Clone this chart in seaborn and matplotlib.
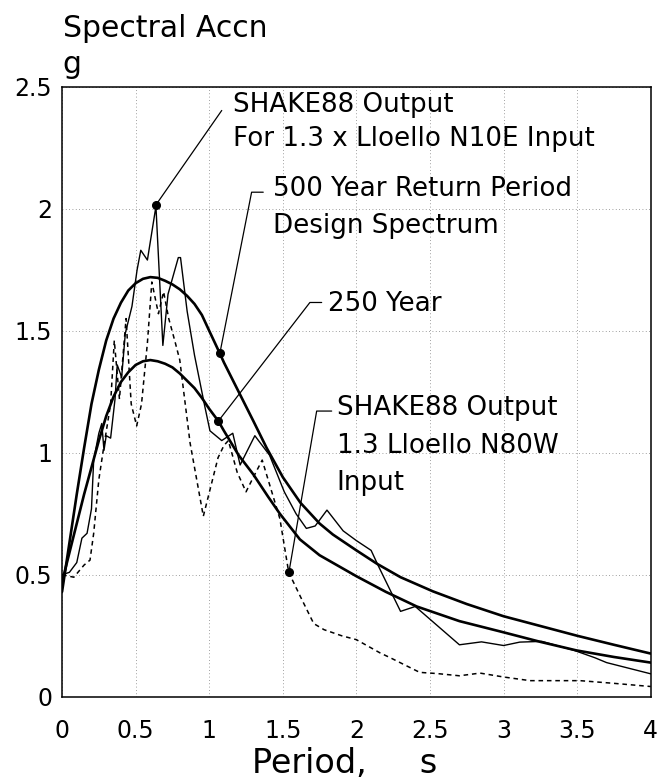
import numpy as np
import pandas as pd
import seaborn as sns
import matplotlib
matplotlib.use('Agg')
import matplotlib.pyplot as plt

# period (s) and spectral acceleration (g)
n10e_period = [0, 0.05, 0.10, 0.135, 0.17, 0.20, 0.215, 0.25, 0.27, 0.285, 0.30, 0.33, 0.36,
               0.375, 0.405, 0.43, 0.475, 0.51, 0.535, 0.58, 0.638, 0.685, 0.72, 0.79, 0.805,
               0.85, 0.90, 0.97, 1.005, 1.085, 1.16, 1.21, 1.31, 1.41, 1.51, 1.59, 1.66, 1.72,
               1.80, 1.91, 2.0, 2.10, 2.15, 2.30, 2.40, 2.70, 2.85, 3.0, 3.11, 3.26, 3.48, 3.62,
               3.70, 4.0]
n10e_accn = [0.50, 0.51, 0.55, 0.65, 0.67, 0.77, 0.97, 1.08, 1.12, 1.01, 1.07, 1.06, 1.22,
             1.36, 1.31, 1.49, 1.60, 1.75, 1.83, 1.79, 2.01, 1.44, 1.65, 1.80, 1.80,
             1.58, 1.40, 1.19, 1.09, 1.05, 1.08, 0.95, 1.07, 0.99, 0.84, 0.75, 0.69, 0.70,
             0.765, 0.68, 0.64, 0.60, 0.535, 0.35, 0.37, 0.213, 0.225, 0.21, 0.224, 0.227, 0.19, 0.16,
             0.14, 0.094]

n80w_period = [0, 0.08, 0.15, 0.19, 0.215, 0.25, 0.28, 0.33, 0.355, 0.39, 0.435, 0.47, 0.507,
               0.54, 0.58, 0.61, 0.655, 0.69, 0.725, 0.77, 0.80, 0.87, 0.96, 1.01, 1.06, 1.10,
               1.13, 1.19, 1.25, 1.30, 1.36, 1.42, 1.48, 1.54, 1.62, 1.71, 1.78, 1.90, 2.0,
               2.16, 2.23, 2.43, 2.55, 2.70, 2.84, 3.0, 3.18, 3.52, 3.75, 4.0]
n80w_accn = [0.50, 0.49, 0.54, 0.56, 0.67, 0.89, 1.01, 1.2, 1.46, 1.22, 1.55, 1.2, 1.11,
             1.2, 1.45, 1.70, 1.57, 1.66, 1.55, 1.45, 1.38, 1.04, 0.74, 0.86, 0.98, 1.03,
             1.05, 0.92, 0.84, 0.90, 0.97, 0.85, 0.73, 0.51, 0.41, 0.30, 0.275, 0.25, 0.234,
             0.18, 0.16, 0.10, 0.095, 0.086, 0.097, 0.081, 0.066, 0.066, 0.055, 0.042]

yr500_period = [0, 0.05, 0.10, 0.15, 0.20, 0.25, 0.30, 0.35, 0.40, 0.45, 0.50, 0.55, 0.60,
                0.65, 0.70, 0.75, 0.80, 0.85, 0.90, 0.95, 1.00, 1.07, 1.10, 1.20, 1.30, 1.39,
                1.50, 1.62, 1.75, 1.84, 2.00, 2.14, 2.30, 2.52, 2.75, 3.00, 3.25, 3.50, 3.75, 4.00]
yr500_accn = [0.43, 0.63, 0.83, 1.02, 1.20, 1.34, 1.46, 1.55, 1.615, 1.665, 1.695, 1.713, 1.72,
              1.717, 1.705, 1.69, 1.67, 1.643, 1.61, 1.565, 1.50, 1.41, 1.37, 1.25, 1.13, 1.02,
              0.90, 0.795, 0.71, 0.665, 0.60, 0.545, 0.49, 0.432, 0.38, 0.33, 0.29, 0.25, 0.213, 0.177]

yr250_period = [0, 0.05, 0.10, 0.15, 0.20, 0.25, 0.30, 0.35, 0.40, 0.45, 0.50, 0.55, 0.60,
                0.65, 0.70, 0.75, 0.80, 0.85, 0.90, 0.95, 1.00, 1.062, 1.10, 1.20, 1.30, 1.40,
                1.48, 1.616, 1.75, 2.00, 2.20, 2.41, 2.70, 2.975, 3.25, 3.495, 3.75, 4.00]
yr250_accn = [0.47, 0.59, 0.71, 0.83, 0.94, 1.05, 1.15, 1.23, 1.29, 1.33, 1.36, 1.375, 1.38,
              1.375, 1.365, 1.35, 1.325, 1.295, 1.265, 1.225, 1.18, 1.13, 1.09, 0.99, 0.911, 0.82,
              0.75, 0.645, 0.58, 0.494, 0.43, 0.37, 0.31, 0.268, 0.225, 0.19, 0.163, 0.14]

# callouts: anchor point on the curve, leader bend, leader end, text lines
callout_anchor = [(0.638, 2.016), (1.073, 1.41), (1.062, 1.13), (1.542, 0.512)]
callout_bend = [(1.085, 2.403), (1.288, 2.068), (1.684, 1.616), (1.73, 1.171)]
callout_end = [(1.085, 2.403), (1.367, 2.068), (1.764, 1.616), (1.832, 1.171)]
callout_text_x = [1.163, 1.435, 1.808, 1.866]
callout_lines = [['SHAKE88 Output', 'For 1.3 x Lloello N10E Input'],
                 ['500 Year Return Period', 'Design Spectrum'],
                 ['250 Year'],
                 ['SHAKE88 Output', '1.3 Lloello N80W', 'Input']]
callout_line_y = [[2.426, 2.287], [2.081, 1.931], [1.609], [1.185, 1.027, 0.876]]

sns.set_style('white')
plt.rcParams['font.family'] = ['DejaVu Sans']
plt.rcParams['text.color'] = 'black'

fig = plt.figure(figsize=(6.6, 7.82), dpi=100)
ax = fig.add_axes([0.094, 0.109, 0.892, 0.78])

sns.lineplot(x=yr500_period, y=yr500_accn, ax=ax, color='black', lw=1.9, sort=False, estimator=None)
sns.lineplot(x=yr250_period, y=yr250_accn, ax=ax, color='black', lw=1.9, sort=False, estimator=None)
sns.lineplot(x=n10e_period, y=n10e_accn, ax=ax, color='black', lw=1.0, sort=False, estimator=None)
sns.lineplot(x=n80w_period, y=n80w_accn, ax=ax, color='black', lw=1.1, sort=False, estimator=None,
             dashes=False, linestyle=(0, (3, 2.5)))

for anc, bend, end, tx, lines, ly in zip(callout_anchor, callout_bend, callout_end,
                                          callout_text_x, callout_lines, callout_line_y):
    ax.plot([anc[0], bend[0], end[0]], [anc[1], bend[1], end[1]], color='black', lw=0.9)
    ax.plot(anc[0], anc[1], 'o', color='black', ms=5.5)
    for line, y in zip(lines, ly):
        ax.text(tx, y, line, fontsize=18.8, va='center', ha='left', color='black')

ax.set_xlim(0, 4)
ax.set_ylim(0, 2.5)
ticks_x = np.arange(0, 4.01, 0.5)
ticks_y = np.arange(0, 2.51, 0.5)
ax.set_xticks(ticks_x)
ax.set_yticks(ticks_y)
ax.set_xticklabels([f'{t:g}' for t in ticks_x])
ax.set_yticklabels([f'{t:g}' for t in ticks_y])
ax.grid(True, color='0.5', lw=0.6, linestyle=(0, (1, 3)))
ax.tick_params(direction='in', length=7, width=1, labelsize=17, colors='black')
ax.tick_params(axis='x', pad=16)
ax.tick_params(axis='y', pad=7)
for s in ax.spines.values():
    s.set_color('black')
    s.set_linewidth(1.1)
ax.set_xlabel('')
ax.set_ylabel('')

fig.text(0.095, 0.9527, 'Spectral Accn', fontsize=21.5, va='baseline', ha='left')
fig.text(0.095, 0.9067, 'g', fontsize=21.5, va='baseline', ha='left')
fig.text(0.382, 0.012, 'Period,     s', fontsize=24, va='baseline', ha='left')

fig.savefig('out.png', dpi=100)
